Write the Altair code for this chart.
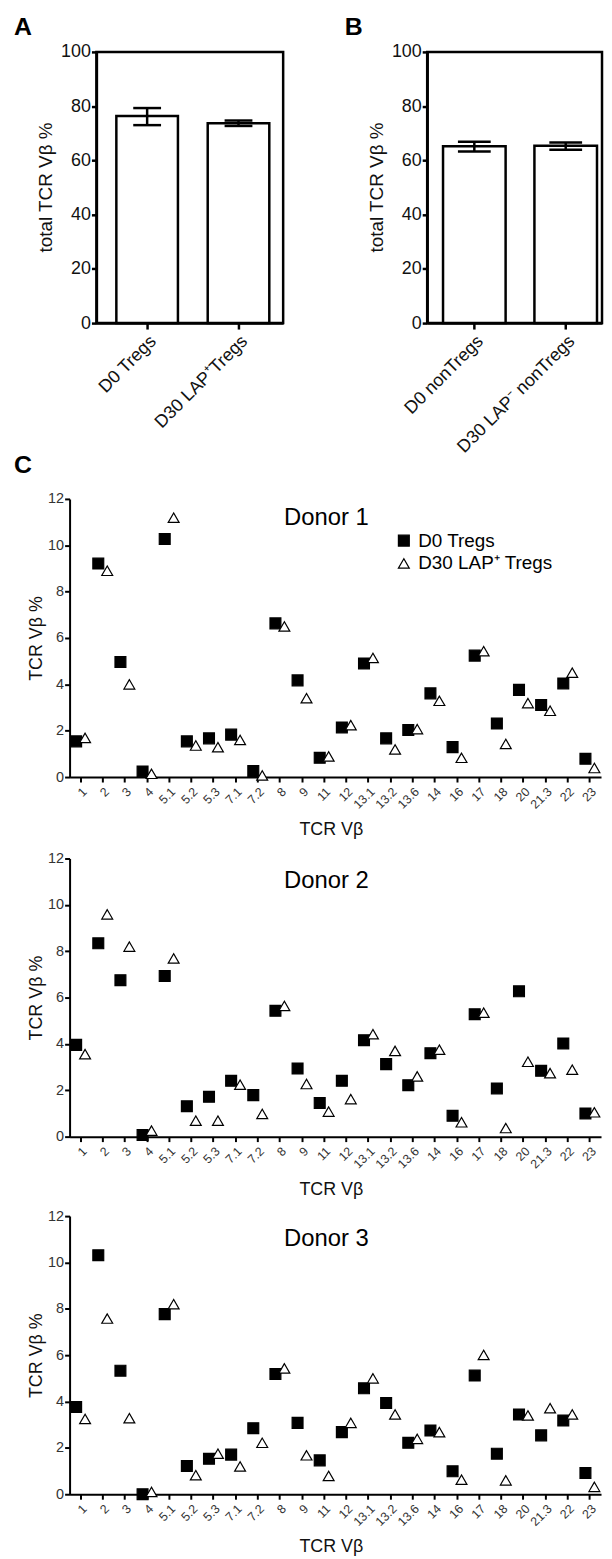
import altair as alt
import pandas as pd

FONT = "Liberation Sans"

# ---------------- Panels A / B ----------------
a_groups = ["D0 Tregs", "D30 LAP\u207aTregs"]
a_mean = [76.4, 73.7]
a_low = [73.0, 72.7]
a_high = [79.3, 74.7]

b_groups = ["D0 nonTregs", "D30 LAP\u207b nonTregs"]
b_mean = [65.2, 65.4]
b_low = [63.3, 63.9]
b_high = [66.9, 66.6]

bar_ticks = [0, 20, 40, 60, 80, 100]

# ---------------- Panel C ----------------
vb_labels = ["1", "2", "3", "4", "5.1", "5.2", "5.3", "7.1", "7.2", "8", "9", "11",
             "12", "13.1", "13.2", "13.6", "14", "16", "17", "18", "20", "21.3", "22", "23"]
series = ["D0 Tregs", "D30 LAP\u207a Tregs"]
donor_names = ["Donor 1", "Donor 2", "Donor 3"]

d1_d0 = [1.54, 9.21, 4.96, 0.24, 10.27, 1.54, 1.67, 1.83, 0.26, 6.63, 4.17, 0.83,
         2.14, 4.90, 1.67, 2.03, 3.61, 1.29, 5.24, 2.31, 3.76, 3.11, 4.04, 0.79]
d1_d30 = [1.69, 8.90, 4.00, 0.14, 11.19, 1.36, 1.29, 1.60, 0.07, 6.50, 3.40, 0.89,
          2.24, 5.14, 1.19, 2.07, 3.29, 0.83, 5.43, 1.43, 3.19, 2.86, 4.50, 0.39]

d2_d0 = [3.96, 8.34, 6.75, 0.07, 6.93, 1.31, 1.72, 2.41, 1.79, 5.43, 2.94, 1.45,
         2.41, 4.16, 3.13, 2.22, 3.60, 0.90, 5.28, 2.08, 6.27, 2.84, 4.02, 1.00]
d2_d30 = [3.56, 9.59, 8.20, 0.26, 7.69, 0.69, 0.69, 2.24, 0.98, 5.64, 2.27, 1.08,
          1.62, 4.42, 3.70, 2.60, 3.75, 0.62, 5.35, 0.37, 3.23, 2.74, 2.89, 1.05]

d3_d0 = [3.76, 10.31, 5.33, 0.00, 7.77, 1.22, 1.53, 1.71, 2.85, 5.19, 3.08, 1.46,
         2.68, 4.57, 3.94, 2.22, 2.75, 0.99, 5.12, 1.75, 3.44, 2.54, 3.18, 0.92]
d3_d30 = [3.25, 7.58, 3.28, 0.10, 8.20, 0.82, 1.75, 1.20, 2.22, 5.43, 1.68, 0.79,
          3.08, 5.00, 3.44, 2.39, 2.68, 0.63, 6.01, 0.60, 3.40, 3.71, 3.44, 0.32]

vb_ticks = [0, 2, 4, 6, 8, 10, 12]


def letter_layer(letter, x, y):
    return alt.Chart(pd.DataFrame({"t": [letter]})).mark_text(
        fontSize=25, fontWeight="bold", align="left", baseline="alphabetic", color="black"
    ).encode(text="t:N", x=alt.value(x), y=alt.value(y))


def bar_panel(groups, mean, low, high, letter, width, cap, barw, pin, pout, palign, extra=None):
    df = pd.DataFrame({"group": groups, "mean": mean, "low": low, "high": high})
    ytitle = "total TCR V\u03b2 %"
    xs = alt.Scale(type="band", domain=groups, paddingInner=pin, paddingOuter=pout, align=palign)
    xax = alt.Axis(title=None, labelAngle=-45, labelFontSize=18, labelColor="#111",
                   labelPadding=3, tickSize=6, tickWidth=2.5, tickColor="black",
                   domainColor="black", domainWidth=2.5)
    ys = alt.Scale(domain=[0, 100], nice=False)
    yax = alt.Axis(values=bar_ticks, titleFontSize=19, titleFontWeight="normal",
                   titleColor="#111", titleX=-51, titleY=136, titleAngle=270,
                   titleAlign="center", titleBaseline="middle",
                   labelFontSize=18, labelColor="#111", labelPadding=1,
                   tickSize=5, tickWidth=2.5, tickColor="black",
                   domainColor="black", domainWidth=2.5, grid=False)
    base = alt.Chart(df)
    bars = base.mark_bar(fill="white", stroke="black", strokeWidth=2.5, width=barw).encode(
        x=alt.X("group:N", sort=groups, scale=xs, axis=xax),
        y=alt.Y("mean:Q", scale=ys, axis=yax, title=ytitle))
    err = base.mark_rule(stroke="black", strokeWidth=2.5).encode(
        x=alt.X("group:N", sort=groups),
        y=alt.Y("low:Q", title=ytitle), y2="high:Q")
    lo = base.mark_tick(color="black", thickness=2.5, size=cap, opacity=1).encode(
        x=alt.X("group:N", sort=groups), y=alt.Y("low:Q", title=ytitle))
    hi = base.mark_tick(color="black", thickness=2.5, size=cap, opacity=1).encode(
        x=alt.X("group:N", sort=groups), y=alt.Y("high:Q", title=ytitle))
    layers = [bars, err, lo, hi, letter_layer(letter, -83, -17)]
    if extra is not None:
        layers.append(letter_layer(extra, -83, 424))
    return alt.layer(*layers).properties(
        width=width, height=273,
        view=alt.ViewBackground(stroke="black", strokeWidth=2.5))


def donor_panel(name, d0, d30, title_y, legend_y):
    df = pd.DataFrame({
        "vb": vb_labels * 2,
        "series": [series[0]] * len(vb_labels) + [series[1]] * len(vb_labels),
        "pct": d0 + d30,
    })
    leg = alt.Legend(orient="none", legendX=327, legendY=legend_y, title=None,
                     labelFontSize=19, labelColor="black", labelFont=FONT,
                     symbolSize=120, symbolStrokeWidth=1.2,
                     rowPadding=3, labelOffset=5, padding=0)
    xax = alt.Axis(title="TCR V\u03b2", labelAngle=-45, labelFontSize=12.5, labelColor="#333",
                   labelPadding=3, tickSize=5, tickWidth=2, tickColor="black",
                   domainColor="black", domainWidth=2,
                   titleFontSize=18, titleFontWeight="normal", titleColor="#111",
                   titleX=263, titleY=44, titleBaseline="top", titleAlign="center")
    yax = alt.Axis(values=vb_ticks, title="TCR V\u03b2 %",
                   titleFontSize=18, titleFontWeight="normal", titleColor="#111",
                   titleX=-33, titleY=140, titleAngle=270, titleAlign="center",
                   titleBaseline="middle",
                   labelFontSize=14.5, labelColor="#333", labelPadding=1,
                   tickSize=5, tickWidth=2, tickColor="black",
                   domainColor="black", domainWidth=2, grid=False)
    pts = alt.Chart(df).mark_point(
        filled=True, strokeWidth=1.2, opacity=1, size=120, clip=False
    ).encode(
        x=alt.X("vb:N", sort=vb_labels,
                scale=alt.Scale(type="band", domain=vb_labels, paddingInner=0, paddingOuter=0),
                axis=xax),
        xOffset=alt.XOffset("series:N", sort=series,
                            scale=alt.Scale(type="point", domain=series,
                                            range=[6.6, 15.6], padding=0)),
        y=alt.Y("pct:Q", scale=alt.Scale(domain=[0, 12], nice=False), axis=yax),
        shape=alt.Shape("series:N", sort=series,
                        scale=alt.Scale(domain=series, range=["square", "triangle-up"]),
                        legend=leg),
        fill=alt.Fill("series:N", sort=series,
                      scale=alt.Scale(domain=series, range=["black", "white"]),
                      legend=leg),
        stroke=alt.Stroke("series:N", sort=series,
                          scale=alt.Scale(domain=series, range=["black", "black"]),
                          legend=leg),
    )
    title = alt.Chart(pd.DataFrame({"t": [name]})).mark_text(
        fontSize=24, align="center", baseline="alphabetic", color="black"
    ).encode(text="t:N", x=alt.value(258.5), y=alt.value(title_y))
    return alt.layer(pts, title).properties(width=535, height=280)


panel_a = bar_panel(a_groups, a_mean, a_low, a_high, "A", 188, 28, 62,
                    0.326, 0.185, 0.59, extra="C")
panel_b = bar_panel(b_groups, b_mean, b_low, b_high, "B", 176, 33, 63,
                    0.315, 0.114, 0.76)

spacer = alt.Chart(pd.DataFrame({"t": [""]})).mark_text().encode(
    text="t:N").properties(width=1, height=1)

top_row = alt.hconcat(panel_a, panel_b, spacing=58)
top_group = alt.hconcat(spacer, top_row, spacing=26, bounds="flush")

d1 = donor_panel(donor_names[0], d1_d0, d1_d30, 26, 32.5)
d2 = donor_panel(donor_names[1], d2_d0, d2_d30, 30, 30)
d3 = donor_panel(donor_names[2], d3_d0, d3_d30, 30, 30)

donors = alt.vconcat(d1, alt.vconcat(d2, d3, spacing=10), spacing=12)

chart = alt.vconcat(top_group, donors, spacing=11).resolve_scale(
    shape="independent", fill="independent", stroke="independent"
).resolve_legend(
    shape="independent", fill="independent", stroke="independent"
).properties(
    padding={"left": 4, "top": 0, "right": 0, "bottom": 0}
).configure(font=FONT).configure_view(stroke=None).configure_axis(grid=False)

chart.save("out.html", embed_options={"renderer": "svg", "actions": False})
